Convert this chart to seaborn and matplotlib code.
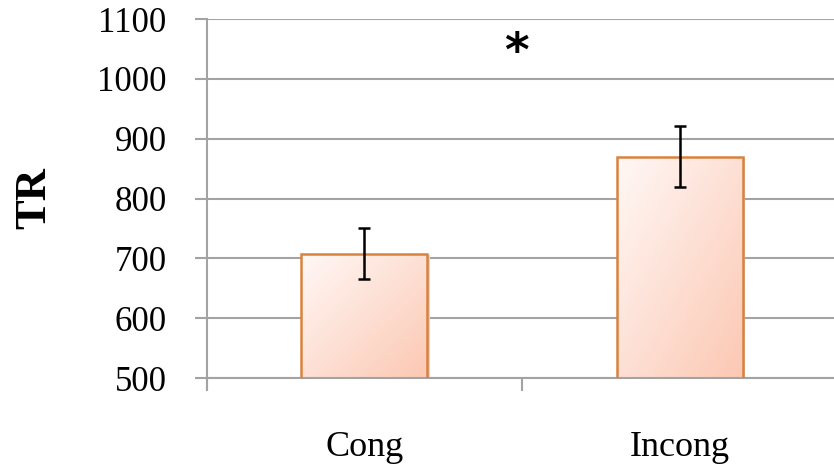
import numpy as np
import pandas as pd
import matplotlib
matplotlib.use("Agg")
import matplotlib.pyplot as plt
import seaborn as sns
from matplotlib.colors import LinearSegmentedColormap
from matplotlib.patches import Rectangle

# ======================================
# DATA
# ======================================

conditions = ["Cong", "Incong"]
mean_rt = [708, 870]
err_low = [665, 820]
err_high = [751, 921]
y_ticks = [500, 600, 700, 800, 900, 1000, 1100]
star_label = "*"
star_value = 1042

df = pd.DataFrame({"Condition": conditions, "TR": mean_rt})

# ======================================
# FIGURE
# ======================================

sns.set_theme(style="white")
plt.rcParams["font.family"] = ["Liberation Serif", "DejaVu Serif"]
plt.rcParams["text.color"] = "black"
plt.rcParams["xtick.labelcolor"] = "black"
plt.rcParams["ytick.labelcolor"] = "black"
plt.rcParams["axes.labelcolor"] = "black"

fig = plt.figure(figsize=(8.34, 4.68), dpi=100)
ax = fig.add_axes([0.248, 0.1923, 0.752, 0.7671])

grid_col = "#a3a3a3"
edge_col = "#d9823f"
y_min, y_max = y_ticks[0], y_ticks[-1]
x_lim = (-0.5, 1.49)

ax.yaxis.grid(True, color=grid_col, linewidth=1.5, zorder=0)
ax.set_axisbelow(True)

sns.barplot(
    data=df,
    x="Condition",
    y="TR",
    width=0.4,
    facecolor="none",
    edgecolor=edge_col,
    linewidth=1.8,
    ax=ax,
    zorder=3,
)

# gradient fill inside each bar, plus a soft shadow
cmap = LinearSegmentedColormap.from_list("peach", ["#fff8f6", "#fcc8b3"])
gx, gy = np.meshgrid(np.linspace(0, 1, 80), np.linspace(0, 1, 80))
grad = (gx + (1 - gy)) / 2
for patch in list(ax.patches):
    x0, w = patch.get_x(), patch.get_width()
    top = patch.get_y() + patch.get_height()
    shadow = Rectangle((x0 + 0.008, y_min), w, top - y_min - 3,
                       facecolor="#d6d6d6", edgecolor="none", zorder=1.5)
    ax.add_patch(shadow)
    im = ax.imshow(
        grad,
        cmap=cmap,
        extent=[x0, x0 + w, y_min, top],
        aspect="auto",
        origin="lower",
        zorder=2,
    )
    im.set_clip_path(patch)

ax.set_xlim(*x_lim)
ax.set_ylim(y_min, y_max)
ax.set_yticks(y_ticks)

# error bars
yerr = [
    np.array(mean_rt) - np.array(err_low),
    np.array(err_high) - np.array(mean_rt),
]
ax.errorbar(
    np.arange(len(conditions)),
    mean_rt,
    yerr=yerr,
    fmt="none",
    ecolor="black",
    elinewidth=1.8,
    capsize=4.5,
    capthick=1.8,
    zorder=4,
)

# significance star
ax.text(0.483, star_value, star_label, ha="center", va="center",
        fontsize=34, fontweight="bold", family="DejaVu Sans", color="black")

# ======================================
# AXES STYLING
# ======================================

sns.despine(ax=ax, top=True, right=True)
for side in ["left", "bottom"]:
    ax.spines[side].set_color(grid_col)
    ax.spines[side].set_linewidth(1.5)
ax.spines["left"].set_bounds(y_min - 18, y_max)

ax.tick_params(axis="y", length=9, width=1.5, color=grid_col,
               labelsize=25, pad=20, left=True, labelcolor="black")
ax.set_xticks([0, 1])
ax.set_xticklabels(conditions, fontsize=26, color="black")
ax.tick_params(axis="x", which="major", length=0, pad=38)
ax.set_xticks([-0.5, 0.5], minor=True)
ax.tick_params(axis="x", which="minor", length=9, width=1.5,
               color=grid_col, bottom=True)

ax.set_xlabel("")
ax.set_ylabel("TR", fontsize=32, fontweight="bold", labelpad=31)

fig.savefig("out.png", dpi=100)
plt.close(fig)
